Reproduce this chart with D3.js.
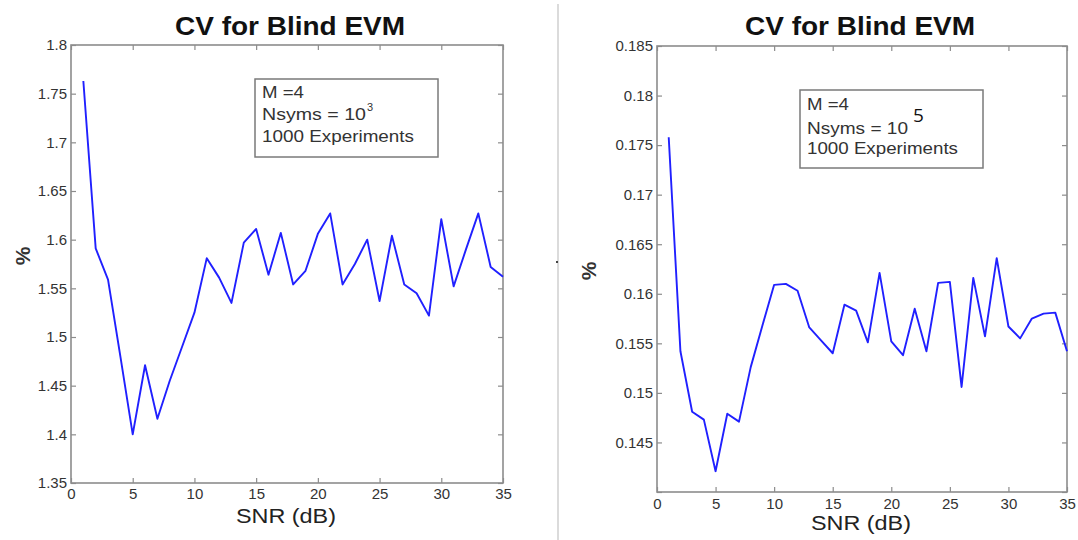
<!DOCTYPE html>
<html>
<head>
<meta charset="utf-8">
<script src="https://cdn.jsdelivr.net/npm/d3@7"></script>
<style>
  html, body { margin: 0; padding: 0; background: #fff; }
  svg { display: block; font-family: "Liberation Sans", Arial, sans-serif; }
</style>
</head>
<body>
<svg id="chart" width="1078" height="540"></svg>
<script>
// ---------- data ----------
const snr = [1,2,3,4,5,6,7,8,9,10,11,12,13,14,15,16,17,18,19,20,21,22,23,24,25,26,27,28,29,30,31,32,33,34,35];
const cvLeft = [1.763,1.591,1.559,1.480,1.400,1.471,1.416,1.455,1.490,1.525,1.581,1.561,1.535,1.597,1.611,1.564,1.607,1.554,1.568,1.606,1.627,1.554,1.575,1.600,1.537,1.604,1.554,1.545,1.522,1.621,1.552,1.590,1.627,1.572,1.562];
const cvRight = [0.1758,0.1542,0.1481,0.1473,0.1421,0.1479,0.1471,0.1526,0.1568,0.1609,0.1610,0.1603,0.1566,0.1553,0.1540,0.1589,0.1583,0.1551,0.1621,0.1552,0.1538,0.1585,0.1542,0.1611,0.1612,0.1506,0.1616,0.1557,0.1636,0.1567,0.1555,0.1575,0.1580,0.1581,0.1542];
const xTicks = [0,5,10,15,20,25,30,35];
const yTicksLeft = [1.35,1.4,1.45,1.5,1.55,1.6,1.65,1.7,1.75,1.8];
const yTicksRight = [0.145,0.15,0.155,0.16,0.165,0.17,0.175,0.18,0.185];
const yTicksRightMarks = [0.14,0.145,0.15,0.155,0.16,0.165,0.17,0.175,0.18,0.185];
const titleText = "CV for Blind EVM";
const xLabelText = "SNR (dB)";
const yLabelText = "%";
const legendLines = ["M =4", "Nsyms = 10", "1000 Experiments"];
const supLeft = "3";
const supRight = "5";

const svg = d3.select("#chart");
const fmt = d3.format(".4~g");

// separator
svg.append("line").attr("x1", 558).attr("x2", 558).attr("y1", 4).attr("y2", 540)
  .attr("stroke", "#cfcfcf").attr("stroke-width", 1.5);
svg.append("rect").attr("x", 556).attr("y", 261).attr("width", 2).attr("height", 2).attr("fill", "#444");

function panel(cfg) {
  const x = d3.scaleLinear().domain([0, 35]).range([cfg.x0, cfg.x1]);
  const y = d3.scaleLinear().domain(cfg.yDomain).range([cfg.y1, cfg.y0]);
  const g = svg.append("g");
  const axisColor = "#8c8c8c";
  const textColor = "#333";

  const gb = g.append("g").attr("transform", `translate(0,${cfg.y1})`)
    .call(d3.axisBottom(x).tickValues(xTicks).tickSize(-5).tickSizeOuter(0).tickPadding(cfg.xPad).tickFormat(d3.format("d")));
  const gt = g.append("g").attr("transform", `translate(0,${cfg.y0})`)
    .call(d3.axisTop(x).tickValues(xTicks).tickSize(-5).tickSizeOuter(0).tickFormat(""));
  const gl = g.append("g").attr("transform", `translate(${cfg.x0},0)`)
    .call(d3.axisLeft(y).tickValues(cfg.yTickMarks).tickSize(-5).tickSizeOuter(0).tickPadding(4)
      .tickFormat(d => cfg.yTicks.some(t => Math.abs(t - d) < 1e-9) ? fmt(d) : ""));
  const gr = g.append("g").attr("transform", `translate(${cfg.x1},0)`)
    .call(d3.axisRight(y).tickValues(cfg.yTickMarks).tickSize(-5).tickSizeOuter(0).tickFormat(""));

  [gb, gt, gl, gr].forEach(a => {
    a.select(".domain").remove();
    a.selectAll(".tick line").attr("stroke", axisColor).attr("stroke-width", 1.2);
    a.selectAll(".tick text").attr("fill", textColor)
      .style("font-size", "15px").style("font-family", '"Liberation Sans", Arial, sans-serif');
  });

  g.append("rect").attr("x", cfg.x0).attr("y", cfg.y0)
    .attr("width", cfg.x1 - cfg.x0).attr("height", cfg.y1 - cfg.y0)
    .attr("fill", "none").attr("stroke", axisColor).attr("stroke-width", 1.6);

  const line = d3.line().x((d, i) => x(snr[i])).y(d => y(d));
  g.append("path").datum(cfg.values).attr("d", line)
    .attr("fill", "none").attr("stroke", "#2020ff").attr("stroke-width", 1.9)
    .attr("stroke-linejoin", "round");

  g.append("text").attr("x", cfg.titleX).attr("y", cfg.titleY).attr("text-anchor", "middle")
    .attr("font-weight", "bold").attr("font-size", 26).attr("fill", "#111")
    .attr("textLength", 230).attr("lengthAdjust", "spacingAndGlyphs").text(titleText);

  g.append("text").attr("x", cfg.xlabX).attr("y", cfg.xlabY).attr("text-anchor", "middle")
    .attr("font-size", 20).attr("fill", "#222")
    .attr("textLength", 100).attr("lengthAdjust", "spacingAndGlyphs").text(xLabelText);

  g.append("text").attr("transform", `translate(${cfg.ylabX},${cfg.ylabY}) rotate(-90)`)
    .attr("text-anchor", "middle").attr("dominant-baseline", "central")
    .attr("font-size", 21).attr("font-weight", "bold").attr("fill", "#333").text(yLabelText);

  const lb = cfg.legend;
  g.append("rect").attr("x", lb.x).attr("y", lb.y).attr("width", lb.w).attr("height", lb.h)
    .attr("fill", "#fff").attr("stroke", "#7a7a7a").attr("stroke-width", 1.5);
  legendLines.forEach((t, i) => {
    g.append("text").attr("x", lb.x + 7).attr("y", lb.y + lb.base[i])
      .attr("font-size", 17).attr("fill", "#333")
      .attr("textLength", lb.len[i]).attr("lengthAdjust", "spacingAndGlyphs").text(t);
  });
  g.append("text").attr("x", lb.sup.x).attr("y", lb.sup.y)
    .attr("font-size", lb.sup.size).attr("fill", lb.sup.color)
    .style("font-family", lb.sup.font).text(lb.sup.text);
}

panel({
  x0: 71, x1: 503, y0: 45, y1: 483,
  yDomain: [1.35, 1.8], yTicks: yTicksLeft, yTickMarks: yTicksLeft,
  values: cvLeft, xPad: 5,
  titleX: 290, titleY: 35,
  xlabX: 286, xlabY: 523,
  ylabX: 22, ylabY: 256,
  legend: { x: 255, y: 79, w: 183, h: 78, base: [18.5, 41, 62.5], len: [42, 104, 152],
            sup: { x: 367, y: 110.5, size: 11, color: "#333", font: '"Liberation Sans", Arial, sans-serif', text: supLeft } }
});

panel({
  x0: 657, x1: 1067, y0: 46, y1: 492,
  yDomain: [0.14, 0.185], yTicks: yTicksRight, yTickMarks: yTicksRightMarks,
  values: cvRight, xPad: 6,
  titleX: 860, titleY: 35,
  xlabX: 861, xlabY: 530,
  ylabX: 588, ylabY: 271,
  legend: { x: 800, y: 90, w: 183, h: 78, base: [19.5, 43.5, 64], len: [42, 101, 151],
            sup: { x: 913, y: 121.5, size: 19, color: "#111", font: '"Open Sans", "Noto Sans", sans-serif', text: supRight } }
});
</script>
</body>
</html>
